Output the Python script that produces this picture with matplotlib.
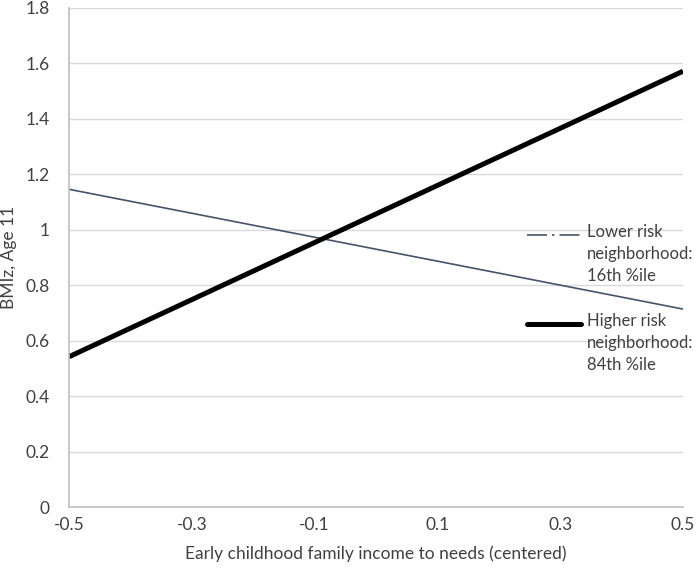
import matplotlib
matplotlib.use("Agg")
import matplotlib.pyplot as plt
from matplotlib.lines import Line2D

plt.rcParams['font.family'] = ['Lato', 'DejaVu Sans']

# endpoints of the two simple slopes
x_vals = [-0.5, 0.5]
lower_risk = [1.146, 0.714]
higher_risk = [0.542, 1.572]

x_ticks = [-0.5, -0.3, -0.1, 0.1, 0.3, 0.5]
y_ticks = [0, 0.2, 0.4, 0.6, 0.8, 1, 1.2, 1.4, 1.6, 1.8]
y_labels = ['0', '0.2', '0.4', '0.6', '0.8', '1', '1.2', '1.4', '1.6', '1.8']

lower_label = "Lower risk\nneighborhood:\n16th %ile"
higher_label = "Higher risk\nneighborhood:\n84th %ile"

slate = '#44546A'
txt = '#404040'

fig = plt.figure(figsize=(7, 5.74), dpi=100)
ax = fig.add_axes([69/700, 1-507/574, (683-69)/700, (507-8)/574])

ax.plot(x_vals, lower_risk, color=slate, lw=1.2, solid_capstyle='butt')
ax.plot(x_vals, higher_risk, color='black', lw=3.6, solid_capstyle='butt')

ax.set_xlim(-0.5, 0.5)
ax.set_ylim(0, 1.8)
ax.set_xticks(x_ticks)
ax.set_xticklabels([f"{t:g}" for t in x_ticks])
ax.set_yticks(y_ticks)
ax.set_yticklabels(y_labels)
ax.tick_params(length=0, labelsize=12.5, labelcolor=txt)
ax.tick_params(axis='y', pad=14)
ax.tick_params(axis='x', pad=7)
ax.grid(axis='y', color='#D9D9D9', lw=1)
ax.set_axisbelow(True)
for s in ['top', 'right']:
    ax.spines[s].set_visible(False)
for s in ['left', 'bottom']:
    ax.spines[s].set_color('#BFBFBF')
    ax.spines[s].set_linewidth(1.2)

ax.set_xlabel("Early childhood family income to needs (centered)", fontsize=12.5,
              color=txt, labelpad=9)
ax.set_ylabel("BMIz, Age 11", fontsize=12.5, color=txt, labelpad=6)

# legend drawn by hand so the key sits on the first text line
fig.add_artist(Line2D([527/700, 581/700], [1-235/574, 1-235/574], color=slate,
                      lw=1.2, ls=(0, (12, 3, 1.5, 3))))
fig.add_artist(Line2D([527/700, 581/700], [1-324/574, 1-324/574], color='black',
                      lw=3.6, solid_capstyle='round'))
fig.text(587/700, 1-224/574, lower_label, fontsize=12, color=txt, va='top',
         linespacing=1.45)
fig.text(587/700, 1-313/574, higher_label, fontsize=12, color=txt, va='top',
         linespacing=1.45)

fig.savefig("out.png", dpi=100)
